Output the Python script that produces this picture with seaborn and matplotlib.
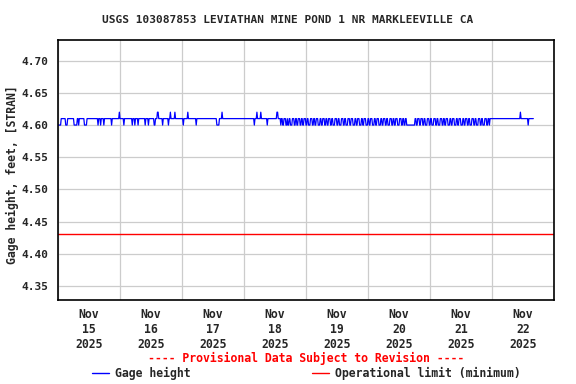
import numpy as np
import pandas as pd
import matplotlib
matplotlib.use("Agg")
import matplotlib.pyplot as plt
import matplotlib.dates as mdates
from matplotlib.lines import Line2D
import seaborn as sns

# ---------------- data ----------------
title = "USGS 103087853 LEVIATHAN MINE POND 1 NR MARKLEEVILLE CA"
start_time = "2025-11-15 00:00"
n_readings = 737                     # 15-minute readings
base_level = 4.61                    # typical gage height, ft
low_level = 4.60
high_level = 4.62
# dips to 4.60: start hour (from Nov 15 00:00) and number of readings
dip_start_h = [0.0, 3.0, 6.25, 8.0, 10.25, 15.5, 16.5, 17.75, 20.75, 25.5,
               28.75, 29.75, 31.0, 33.75, 35.0, 37.25, 40.5, 42.75, 48.5,
               53.5, 61.5, 76.0, 81.0, 182.0]
dip_len = [5, 3, 5, 1, 4, 1, 1, 1, 1, 1, 1, 1, 1, 1, 1, 2, 1, 1, 1, 1, 4, 1, 1, 1]
# spikes to 4.62
spike_start_h = [23.75, 38.5, 43.5, 45.25, 50.25, 63.5, 77.0, 78.5, 84.75, 179.0]
spike_len = [1, 2, 1, 1, 1, 1, 1, 1, 2, 1]
# dense flickering section (0 = 4.60, 1 = 4.61), one char per reading
dense_start_h = 86.25
dense_codes = (
    "011001110010011000111001100111001100"
    "111001100011100110011100011001110011"
    "001110011000111001100011100110001110"
    "011100011001110001100111000110011100"
    "011001110001100111001100011100110011"
    "100011100110011" "0000000000000" "11001110"
    "011100110001110011000111001100011100"
    "110011100011001110001100111000110011"
    "100110001110011000111001100011100110"
)
limit_value = 4.43
y_ticks = [4.35, 4.40, 4.45, 4.50, 4.55, 4.60, 4.65, 4.70]
y_range = (4.328, 4.733)
x_range = ("2025-11-15", "2025-11-23")

# ---------------- build table ----------------
times = pd.date_range(start_time, periods=n_readings, freq="15min")
vals = np.full(n_readings, base_level)
for s, L in zip(dip_start_h, dip_len):
    i = int(round(s * 4)); vals[i:i + L] = low_level
for s, L in zip(spike_start_h, spike_len):
    i = int(round(s * 4)); vals[i:i + L] = high_level
i0 = int(round(dense_start_h * 4))
for k, c in enumerate(dense_codes):
    if i0 + k < n_readings:
        vals[i0 + k] = low_level if c == "0" else base_level
df = pd.DataFrame({"time": times, "gage": vals})

# ---------------- plot ----------------
sns.set_theme(style="white")
plt.rcParams["font.family"] = ["DejaVu Sans Mono", "DejaVu Sans"]
plt.rcParams["font.weight"] = "bold"
FS = 8
FS2 = 8.3

fig = plt.figure(figsize=(5.76, 3.84), dpi=100)
W, H = 576, 384
ax = fig.add_axes([58 / W, 1 - 300 / H, (554 - 58) / W, (300 - 39.5) / H])

sns.lineplot(data=df, x="time", y="gage", ax=ax, color="#0000ff", lw=0.9,
             estimator=None, legend=False)
ax.axhline(limit_value, color="#ff0000", lw=1)

ax.set_xlim(pd.Timestamp(x_range[0]), pd.Timestamp(x_range[1]))
ax.set_ylim(*y_range)
ax.set_yticks(y_ticks)
ax.set_yticklabels([f"{v:.2f}" for v in y_ticks], fontsize=FS, fontweight="bold")

ax.xaxis.set_major_locator(mdates.DayLocator())
ax.xaxis.set_major_formatter(plt.NullFormatter())
ax.xaxis.set_minor_locator(mdates.HourLocator(byhour=12))
ax.xaxis.set_minor_formatter(mdates.DateFormatter("%b\n%d\n%Y"))
ax.tick_params(axis="x", which="both", length=0, pad=6)
ax.tick_params(axis="x", which="minor", labelsize=FS2)
ax.tick_params(axis="y", length=0, pad=7)
for lab in ax.xaxis.get_minorticklabels():
    lab.set_fontweight("bold")
    lab.set_linespacing(1.2)

ax.grid(True, which="major", color="#cccccc", lw=0.9)
ax.set_axisbelow(True)
for sp in ax.spines.values():
    sp.set_color("black"); sp.set_linewidth(1.2)
ax.set_xlabel(""); ax.set_ylabel("")

fig.text(0.5, 1 - 20 / H, title, ha="center", va="center", fontsize=FS, fontweight="bold")
fig.text(12 / W, 1 - 175 / H, "Gage height, feet, [STRAN]", rotation=90,
         ha="center", va="center", fontsize=FS2, fontweight="bold")
fig.text(306 / W, 1 - 358 / H, "---- Provisional Data Subject to Revision ----",
         ha="center", va="center", fontsize=FS2, fontweight="bold", color="#ff0000")

fig.legend(handles=[Line2D([], [], color="#0000ff", lw=1)], labels=["Gage height"],
           loc="center left", bbox_to_anchor=(92 / W, 1 - 373 / H), frameon=False,
           handlelength=1.5, handletextpad=0.5, borderpad=0, borderaxespad=0,
           prop={"size": FS2, "weight": "bold"})
fig.legend(handles=[Line2D([], [], color="#ff0000", lw=1)],
           labels=["Operational limit (minimum)"],
           loc="center left", bbox_to_anchor=(312 / W, 1 - 373 / H), frameon=False,
           handlelength=1.5, handletextpad=0.5, borderpad=0, borderaxespad=0,
           prop={"size": FS2, "weight": "bold"})

fig.savefig("out.png", dpi=100)
